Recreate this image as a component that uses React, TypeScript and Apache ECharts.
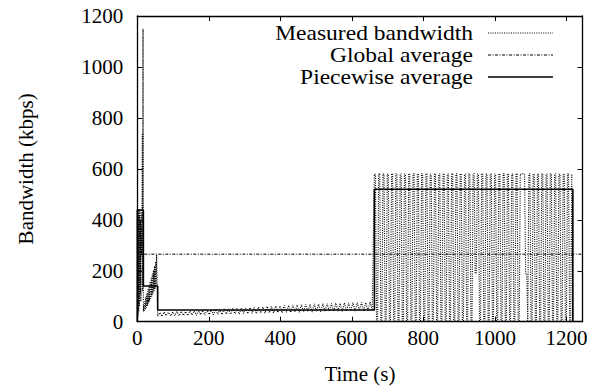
import React, { useEffect, useRef } from 'react';
import * as echarts from 'echarts';

// ---- axes ----
const X_MIN = 0;
const X_MAX = 1245;
const X_STEP = 200;
const Y_MIN = 0;
const Y_MAX = 1200;
const Y_STEP = 200;

// ---- measured bandwidth (kbps) ----
// start-up burst, explicit times (s)
const startTimes = [0, 1, 2, 3, 4, 5, 6, 7, 8, 9, 10, 11, 12, 13, 14, 15, 16, 17];
const startValues = [0, 430, 20, 440, 40, 420, 60, 435, 110, 400, 80, 430, 260, 420, 740, 120, 1150, 40];

// rising zig-zag, sampled every 1.5 s from 18 s
const wedgeStart = 18;
const wedgeStep = 1.5;
const wedgeValues = [64, 40, 80, 47, 98, 55, 112, 63, 128, 72, 142, 80, 158, 90, 172, 99, 188, 108, 202, 118, 218, 128, 236, 138, 262, 148];

// low band, sampled every 6 s from 57 s
const bandStart = 57;
const bandStep = 6;
const bandValues = [
  22, 36, 21, 38, 23, 37, 22, 39, 24, 40, 23, 41, 25, 40, 24, 42, 26, 43, 25, 44,
  27, 45, 26, 46, 28, 46, 27, 48, 29, 48, 28, 50, 30, 50, 29, 52, 31, 52, 30, 54,
  32, 54, 31, 56, 33, 56, 32, 58, 34, 58, 33, 60, 35, 60, 34, 62, 36, 62, 35, 64,
  37, 64, 36, 66, 38, 66, 37, 67, 38, 68, 39, 68, 38, 70, 40, 69, 39, 71, 40, 71,
  41, 72, 40, 73, 42, 72, 41, 74, 42, 74, 43, 75, 42, 75, 44, 76, 43, 75, 44, 77,
  45,
];

// high phase, sampled every 3 s from 663 s
const highStart = 663;
const highStep = 3;
const highValues = [
  580, 578, 0, 0, 579, 582, 0, 0, 581, 579, 0, 0, 578, 580, 0, 0,
  580, 581, 0, 0, 582, 580, 0, 0, 579, 581, 0, 0, 580, 578, 0, 0,
  581, 580, 0, 0, 578, 582, 0, 0, 580, 579, 0, 0, 582, 580, 0, 0,
  579, 581, 0, 0, 580, 578, 0, 0, 581, 580, 0, 0, 578, 581, 0, 0,
  580, 582, 0, 0, 579, 580, 0, 0, 582, 578, 0, 0, 580, 581, 0, 0,
  581, 579, 0, 0, 578, 580, 0, 0, 580, 581, 0, 0, 579, 582, 190, 190,
  580, 578, 0, 0, 582, 580, 0, 0, 579, 581, 0, 0, 581, 580, 0, 0,
  580, 579, 0, 0, 578, 581, 0, 0, 580, 582, 0, 0, 581, 578, 0, 0,
  579, 580, 0, 0, 582, 579, 0, 0, 580, 578, 581, 580, 579, 190, 190, 0,
  580, 581, 0, 0, 578, 580, 0, 0, 581, 579, 0, 0, 580, 582, 0, 0,
  579, 580, 0, 0, 582, 578, 0, 0, 580, 581, 0, 0, 578, 580, 0, 0,
  581, 579, 0, 0, 580, 582, 0, 0, 580, 0,
];

// ---- averages ----
const globalTimes = [0, 1245];
const globalValues = [265, 265];

const piecewiseTimes = [0, 0, 17, 17, 57, 57, 663, 663, 1218, 1218];
const piecewiseValues = [0, 438, 438, 140, 140, 46, 46, 520, 520, 0];

// ---- texts ----
const seriesNames = ['Measured bandwidth', 'Global average', 'Piecewise average'];
const xName = 'Time (s)';
const yName = 'Bandwidth (kbps)';

const FONT = 'Liberation Serif';

function buildMeasured(): number[][] {
  const out: number[][] = [];
  startTimes.forEach((t, i) => out.push([t, startValues[i]]));
  wedgeValues.forEach((v, i) => out.push([wedgeStart + i * wedgeStep, v]));
  bandValues.forEach((v, i) => out.push([bandStart + i * bandStep, v]));
  highValues.forEach((v, i) => out.push([highStart + i * highStep, v]));
  return out;
}

export default function App() {
  const ref = useRef<HTMLDivElement>(null);

  useEffect(() => {
    document.body.style.margin = '0';
    if (!ref.current) return;
    const chart = echarts.init(ref.current, undefined, { renderer: 'svg' });

    const axisLine = { show: true, onZero: false, lineStyle: { color: '#000', width: 1.3 } };
    const axisTick = { show: true, inside: true, length: 5, lineStyle: { color: '#000', width: 1 } };
    const labelStyle = { color: '#000', fontFamily: FONT, fontSize: 21 };
    const nameStyle = { color: '#000', fontFamily: FONT, fontSize: 21 };

    const measuredDash = [1, 1.3];
    const globalDash = [3, 1.5, 1, 1.5];

    const legendRows = [33, 55, 77];
    const legendDash: any[] = [measuredDash, globalDash, null];
    const legendWidth = [1, 1, 1.6];

    const graphic: any[] = [];
    seriesNames.forEach((name, i) => {
      graphic.push({
        type: 'text',
        x: 473,
        y: legendRows[i],
        scaleX: 1.12,
        style: {
          text: name,
          align: 'right',
          verticalAlign: 'middle',
          fill: '#000',
          fontFamily: FONT,
          fontSize: 21,
        },
      });
      graphic.push({
        type: 'line',
        shape: { x1: 488, y1: legendRows[i], x2: 553, y2: legendRows[i] },
        style: {
          stroke: '#000',
          lineWidth: legendWidth[i],
          lineDash: legendDash[i] || undefined,
        },
      });
    });

    chart.setOption({
      animation: false,
      backgroundColor: '#fff',
      grid: { left: 137.3, right: 22.5, top: 16, bottom: 68.3, containLabel: false },
      xAxis: [
        {
          type: 'value',
          position: 'bottom',
          min: X_MIN,
          max: X_MAX,
          interval: X_STEP,
          axisLine,
          axisTick,
          splitLine: { show: false },
          axisLabel: {
            ...labelStyle,
            margin: 6,
            formatter: (v: number) => (v % X_STEP === 0 ? String(v) : ''),
          },
          name: xName,
          nameLocation: 'middle',
          nameGap: 42,
          nameTextStyle: nameStyle,
        },
        {
          type: 'value',
          position: 'top',
          min: X_MIN,
          max: X_MAX,
          interval: X_STEP,
          axisLine,
          axisTick,
          splitLine: { show: false },
          axisLabel: { show: false },
        },
      ],
      yAxis: [
        {
          type: 'value',
          position: 'left',
          min: Y_MIN,
          max: Y_MAX,
          interval: Y_STEP,
          axisLine,
          axisTick,
          splitLine: { show: false },
          axisLabel: { ...labelStyle, margin: 14, formatter: (v: number) => String(v) },
          name: yName,
          nameLocation: 'middle',
          nameGap: 101,
          nameTextStyle: nameStyle,
        },
        {
          type: 'value',
          position: 'right',
          min: Y_MIN,
          max: Y_MAX,
          interval: Y_STEP,
          axisLine,
          axisTick,
          splitLine: { show: false },
          axisLabel: { show: false },
        },
      ],
      series: [
        {
          name: seriesNames[0],
          type: 'line',
          xAxisIndex: 0,
          yAxisIndex: 0,
          symbol: 'none',
          data: buildMeasured(),
          lineStyle: { color: '#000', width: 1.1, type: measuredDash },
          z: 2,
        },
        {
          name: seriesNames[1],
          type: 'line',
          xAxisIndex: 0,
          yAxisIndex: 0,
          symbol: 'none',
          data: globalTimes.map((t, i) => [t, globalValues[i]]),
          lineStyle: { color: '#000', width: 1, type: globalDash },
          z: 3,
        },
        {
          name: seriesNames[2],
          type: 'line',
          xAxisIndex: 0,
          yAxisIndex: 0,
          symbol: 'none',
          data: piecewiseTimes.map((t, i) => [t, piecewiseValues[i]]),
          lineStyle: { color: '#000', width: 1.6, type: 'solid' },
          z: 4,
        },
      ],
      graphic,
    });

    return () => chart.dispose();
  }, []);

  return <div ref={ref} style={{ width: 605, height: 390 }} />;
}
